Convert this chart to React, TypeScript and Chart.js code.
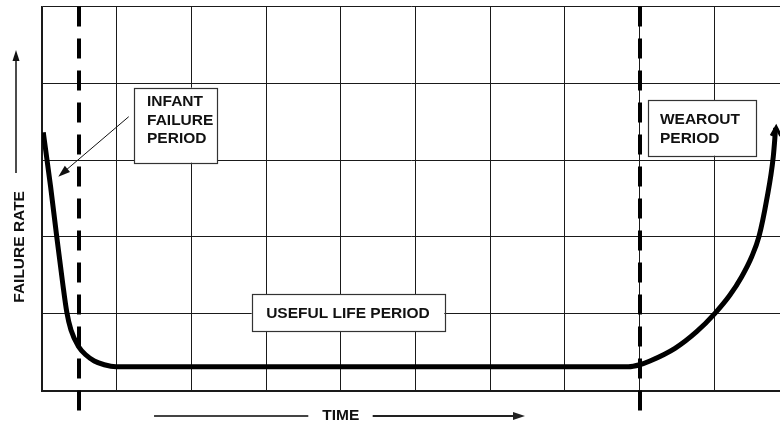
import React, { useEffect, useRef } from 'react';
import { Chart, registerables } from 'chart.js';

Chart.register(...registerables);

// ---- data ----
const curveX = [0.017, 0.115, 0.194, 0.277, 0.331, 0.388, 0.491, 0.589, 0.7, 0.834, 0.991, 2.0, 3.0, 4.0, 5.0, 6.0, 7.0, 7.85, 8.0, 8.139, 8.474, 8.764, 9.009, 9.21, 9.367, 9.501, 9.598, 9.701, 9.79, 9.822];
const curveY = [3.362, 2.654, 2.03, 1.396, 1.026, 0.788, 0.57, 0.462, 0.384, 0.335, 0.31, 0.31, 0.31, 0.31, 0.31, 0.31, 0.31, 0.31, 0.335, 0.384, 0.549, 0.766, 1.005, 1.243, 1.482, 1.742, 2.003, 2.48, 3.044, 3.42];
const xGridTicks = [0, 1, 2, 3, 4, 5, 6, 7, 8, 9];
const yGridTicks = [0, 1, 2, 3, 4, 5];
const phaseBoundaries = [0.5, 8];
const infantLabel = ['INFANT', 'FAILURE', 'PERIOD'];
const wearoutLabel = ['WEAROUT', 'PERIOD'];
const usefulLabel = ['USEFUL LIFE PERIOD'];
const xAxisTitle = 'TIME';
const yAxisTitle = 'FAILURE RATE';

const FONT = 'bold 15.5px "Liberation Sans", Arial, sans-serif';

function arrowHead(ctx: CanvasRenderingContext2D, x1: number, y1: number, x2: number, y2: number, len: number, half: number) {
  const a = Math.atan2(y2 - y1, x2 - x1);
  ctx.beginPath();
  ctx.moveTo(x2, y2);
  ctx.lineTo(x2 - len * Math.cos(a) + half * Math.sin(a), y2 - len * Math.sin(a) - half * Math.cos(a));
  ctx.lineTo(x2 - len * Math.cos(a) - half * Math.sin(a), y2 - len * Math.sin(a) + half * Math.cos(a));
  ctx.closePath();
  ctx.fill();
}

function arrow(ctx: CanvasRenderingContext2D, x1: number, y1: number, x2: number, y2: number, len: number, half: number, width: number, color: string) {
  const a = Math.atan2(y2 - y1, x2 - x1);
  ctx.save();
  ctx.strokeStyle = color;
  ctx.fillStyle = color;
  ctx.lineWidth = width;
  ctx.beginPath();
  ctx.moveTo(x1, y1);
  ctx.lineTo(x2 - (len - 2) * Math.cos(a), y2 - (len - 2) * Math.sin(a));
  ctx.stroke();
  arrowHead(ctx, x1, y1, x2, y2, len, half);
  ctx.restore();
}

function box(ctx: CanvasRenderingContext2D, x1: number, y1: number, x2: number, y2: number) {
  ctx.save();
  ctx.fillStyle = '#fff';
  ctx.fillRect(x1, y1, x2 - x1, y2 - y1);
  ctx.strokeStyle = '#333';
  ctx.lineWidth = 1.2;
  ctx.strokeRect(Math.round(x1) + 0.5, Math.round(y1) + 0.5, Math.round(x2 - x1), Math.round(y2 - y1));
  ctx.restore();
}

const annotations = {
  id: 'bathtubAnnotations',
  beforeDatasetsDraw(chart: any) {
    const { ctx, chartArea, scales } = chart;
    const xs = scales.x;
    const ys = scales.y;
    const px = (v: number) => xs.getPixelForValue(v);
    const py = (v: number) => ys.getPixelForValue(v);
    ctx.save();
    // phase boundary dashed lines
    ctx.strokeStyle = '#000';
    ctx.lineWidth = 4;
    ctx.setLineDash([20, 12]);
    phaseBoundaries.forEach((b) => {
      const x = Math.round(px(b));
      ctx.beginPath();
      ctx.moveTo(x, chartArea.top);
      ctx.lineTo(x, chart.height);
      ctx.stroke();
    });
    ctx.setLineDash([]);

    // boxes
    box(ctx, px(1.232), py(3.943), px(2.347), py(2.966));
    box(ctx, px(8.116), py(3.783), px(9.558), py(3.057));
    box(ctx, px(2.807), py(1.2565), px(5.386), py(0.775));

    ctx.fillStyle = '#111';
    ctx.font = FONT;
    ctx.textBaseline = 'alphabetic';
    ctx.textAlign = 'left';
    infantLabel.forEach((t, i) => ctx.fillText(t, px(1.406), py(3.704) + i * 18.7));
    wearoutLabel.forEach((t, i) => ctx.fillText(t, px(8.273), py(3.47) + i * 19.3));
    ctx.textAlign = 'center';
    usefulLabel.forEach((t, i) => ctx.fillText(t, px(4.096), py(0.94) + i * 18.7));

    // infant arrow
    arrow(ctx, px(1.161), py(3.565), px(0.218), py(2.784), 12, 4, 1, '#111');

    // TIME axis title with arrows
    const ty = Math.round(chartArea.bottom + 25.5);
    ctx.strokeStyle = '#444';
    ctx.lineWidth = 2;
    ctx.beginPath();
    ctx.moveTo(px(1.5), ty);
    ctx.lineTo(px(3.565), ty);
    ctx.stroke();
    arrow(ctx, px(4.427), ty, px(6.466), ty, 12, 4, 2, '#222');
    ctx.fillStyle = '#111';
    ctx.textAlign = 'center';
    ctx.fillText(xAxisTitle, px(4.0), chartArea.bottom + 29.5);

    // FAILURE RATE axis title with arrow
    const ax = chartArea.left - 26;
    arrow(ctx, ax, py(2.832), ax, py(4.434), 11, 3.5, 1.5, '#111');
    ctx.save();
    ctx.translate(chartArea.left - 18, py(1.87));
    ctx.rotate(-Math.PI / 2);
    ctx.textAlign = 'center';
    ctx.fillText(yAxisTitle, 0, 0);
    ctx.restore();
    ctx.restore();
  },
  afterDatasetsDraw(chart: any) {
    const { ctx, scales } = chart;
    const n = curveX.length - 1;
    const tx = scales.x.getPixelForValue(curveX[n]);
    const ty = scales.y.getPixelForValue(curveY[n]);
    ctx.save();
    ctx.strokeStyle = '#000';
    ctx.lineWidth = 3;
    ctx.lineCap = 'butt';
    ctx.beginPath();
    ctx.moveTo(tx - 4.5, ty + 8);
    ctx.lineTo(tx + 0.5, ty - 1);
    ctx.lineTo(tx + 5, ty + 8);
    ctx.stroke();
    ctx.restore();
  },
};

export default function App() {
  const canvasRef = useRef<HTMLCanvasElement | null>(null);

  useEffect(() => {
    const canvas = canvasRef.current;
    if (!canvas) return;
    const chart = new Chart(canvas, {
      type: 'line',
      data: {
        datasets: [
          {
            label: 'Failure rate',
            data: curveX.map((x, i) => ({ x, y: curveY[i] })),
            borderColor: '#000',
            borderWidth: 5,
            pointRadius: 0,
            fill: false,
            cubicInterpolationMode: 'monotone',
          },
        ],
      },
      options: {
        animation: false,
        responsive: false,
        maintainAspectRatio: false,
        devicePixelRatio: 1,
        layout: { padding: { left: 42, top: 6.5, right: 0, bottom: 30.5 } },
        plugins: { legend: { display: false }, tooltip: { enabled: false } },
        scales: {
          x: {
            type: 'linear',
            min: 0,
            max: 9.88,
            afterBuildTicks: (s: any) => {
              s.ticks = xGridTicks.map((v) => ({ value: v }));
            },
            afterFit: (s: any) => {
              s.height = 0;
            },
            ticks: { display: false },
            grid: { color: '#1a1a1a', lineWidth: 1, drawTicks: false },
            border: { display: true, color: '#1a1a1a', width: 2 },
          },
          y: {
            type: 'linear',
            min: 0,
            max: 5,
            afterBuildTicks: (s: any) => {
              s.ticks = yGridTicks.map((v) => ({ value: v }));
            },
            afterFit: (s: any) => {
              s.width = 0;
            },
            ticks: { display: false },
            grid: { color: '#1a1a1a', lineWidth: 1, drawTicks: false },
            border: { display: true, color: '#1a1a1a', width: 1.5 },
          },
        },
      },
      plugins: [annotations],
    } as any);
    return () => chart.destroy();
  }, []);

  return (
    <canvas
      ref={canvasRef}
      width={780}
      height={421}
      style={{ position: 'absolute', left: 0, top: 0, width: 780, height: 421, display: 'block', background: '#fff' }}
    />
  );
}
